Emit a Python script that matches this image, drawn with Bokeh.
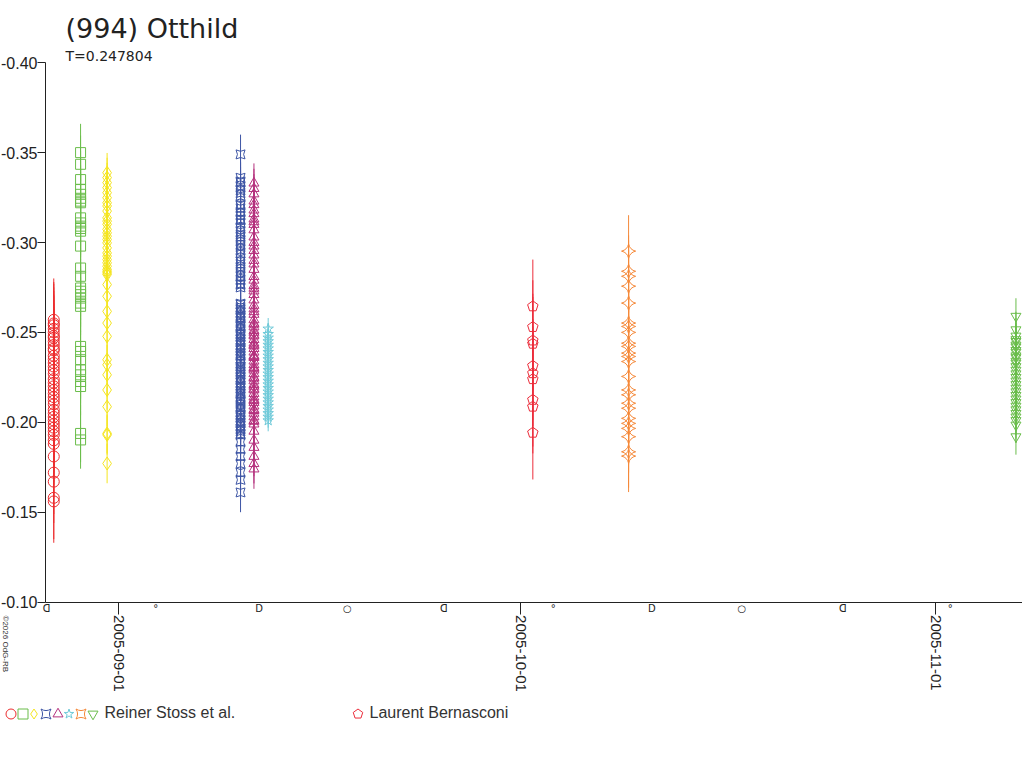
import math
import numpy as np
import pandas as pd
from bokeh.plotting import figure
from bokeh.models import (ColumnDataSource, Range1d, FixedTicker, NumeralTickFormatter,
                          DatetimeTickFormatter, LinearAxis, Label, Legend, LegendItem)
from bokeh.embed import file_html
from bokeh.resources import INLINE

TITLE = "(994) Otthild"
SUBTITLE = "T=0.247804"
COPYRIGHT = "\u00a92026 OdG-RB"

# axis extents (data) and the full canvas extents (data)
X_START = "2005-08-26 13:10"
X_END = "2005-11-07 11:00"
X_VIEW = ("2005-08-23 04:35", "2005-11-07 11:00")
Y_AXIS = (-0.40, -0.10)
Y_VIEW = (-0.0119, -0.4346)
Y_TICKS = [-0.40, -0.35, -0.30, -0.25, -0.20, -0.15, -0.10]
X_TICKS = ["2005-09-01", "2005-10-01", "2005-11-01"]

# moon phases (last quarter, new, first quarter, full)
MOON_DATES = ["2005-08-26 15:18", "2005-09-03 18:45", "2005-09-11 11:37", "2005-09-18 02:01",
              "2005-09-25 06:41", "2005-10-03 10:28", "2005-10-10 19:01", "2005-10-17 12:14",
              "2005-10-25 01:17", "2005-11-02 01:25"]
MOON_SYMBOLS = ["\u15e1", "\u00b0", "D", "\u25cb", "\u15e1", "\u00b0", "D", "\u25cb", "\u15e1", "\u00b0"]

# ---- Reiner Stoss et al. : eight nights ----
N1_DATE = "2005-08-27 04:00"
N1_MAG = [-0.257, -0.255, -0.254, -0.252, -0.250, -0.248, -0.247, -0.245, -0.243, -0.241,
          -0.240, -0.237, -0.235, -0.233, -0.231, -0.229, -0.227, -0.224, -0.222, -0.220,
          -0.218, -0.216, -0.214, -0.212, -0.210, -0.207, -0.205, -0.203, -0.201, -0.199,
          -0.197, -0.195, -0.193, -0.190, -0.188, -0.181, -0.172, -0.167, -0.158, -0.156]
N1_ERR = 0.023

N2_DATE = "2005-08-29 04:00"
N2_MAG = [-0.350, -0.3435, -0.335, -0.3296, -0.3268, -0.3246, -0.3230, -0.3221, -0.3137, -0.3109,
          -0.3091, -0.3078, -0.3063, -0.2980, -0.2858, -0.2812, -0.2747, -0.2729, -0.2710, -0.2691,
          -0.2663, -0.2645, -0.2422, -0.2394, -0.2348, -0.2292, -0.2264, -0.2227, -0.2199, -0.1938,
          -0.1902]
N2_ERR = 0.016

N3_DATE = "2005-08-31 03:30"
N3_MAG = [-0.3388, -0.3361, -0.3333, -0.3305, -0.3277, -0.3249, -0.3221, -0.3203, -0.3175, -0.3137,
          -0.3119, -0.3101, -0.3073, -0.3054, -0.3035, -0.3017, -0.2998, -0.2970, -0.2942, -0.2924,
          -0.2905, -0.2887, -0.2868, -0.2850, -0.2840, -0.2831, -0.2822, -0.2766, -0.2701, -0.2617,
          -0.2552, -0.2478, -0.2348, -0.2320, -0.2264, -0.2180, -0.2087, -0.1938, -0.1930, -0.1771]
N3_ERR = 0.011

N4_DATE = "2005-09-10 02:30"
N4_MAG = [-0.349, -0.336, -0.334, -0.331, -0.329, -0.326, -0.321, -0.319, -0.317, -0.315,
          -0.313, -0.311, -0.308, -0.306, -0.303, -0.301, -0.299, -0.296, -0.294, -0.291,
          -0.288, -0.286, -0.284, -0.281, -0.279, -0.277, -0.275, -0.266, -0.264, -0.263,
          -0.261, -0.259, -0.258, -0.256, -0.254, -0.253, -0.251, -0.249, -0.248, -0.246,
          -0.245, -0.243, -0.241, -0.240, -0.238, -0.237, -0.235, -0.233, -0.231, -0.230,
          -0.228, -0.227, -0.225, -0.224, -0.222, -0.220, -0.219, -0.217, -0.216, -0.214,
          -0.212, -0.211, -0.209, -0.208, -0.206, -0.204, -0.203, -0.201, -0.200, -0.198,
          -0.196, -0.195, -0.193, -0.189, -0.185, -0.181, -0.177, -0.172, -0.168, -0.161,
          -0.3335, -0.3275, -0.3205, -0.3125, -0.3045, -0.2975, -0.2895, -0.2825, -0.2765,
          -0.2655, -0.2625, -0.2595, -0.2565, -0.2535, -0.2505, -0.2475, -0.2445, -0.2415,
          -0.2385, -0.2355, -0.2325, -0.2295, -0.2265, -0.2235, -0.2205, -0.2175, -0.2145,
          -0.2115, -0.2085, -0.2055, -0.2025, -0.1995, -0.1965, -0.1935]
N4_ERR = 0.011

N5_DATE = "2005-09-11 02:30"
N5_MAG = [-0.333, -0.330, -0.327, -0.323, -0.321, -0.318, -0.316, -0.313, -0.310, -0.307,
          -0.303, -0.300, -0.298, -0.293, -0.290, -0.288, -0.285, -0.281, -0.279, -0.276,
          -0.273, -0.271, -0.268, -0.265, -0.263, -0.260, -0.257, -0.255, -0.253, -0.251,
          -0.250, -0.248, -0.246, -0.244, -0.243, -0.241, -0.239, -0.237, -0.236, -0.234,
          -0.232, -0.230, -0.229, -0.227, -0.225, -0.223, -0.221, -0.220, -0.218, -0.216,
          -0.214, -0.212, -0.211, -0.209, -0.207, -0.205, -0.203, -0.201, -0.199, -0.195,
          -0.190, -0.186, -0.181, -0.177, -0.174,
          -0.3115, -0.2955, -0.2745, -0.2615, -0.2545, -0.2485, -0.2425, -0.2365, -0.2305,
          -0.2245, -0.2185, -0.2125, -0.2065, -0.2005]
N5_ERR = 0.011

N6_DATE = "2005-09-12 04:00"
N6_MAG = [-0.252, -0.249, -0.247, -0.245, -0.243, -0.241, -0.239, -0.237, -0.235, -0.233,
          -0.231, -0.229, -0.227, -0.225, -0.223, -0.221, -0.219, -0.217, -0.215, -0.213,
          -0.211, -0.209, -0.207, -0.205, -0.203, -0.201]
N6_ERR = 0.006

N7_DATE = "2005-10-09 01:30"
N7_MAG = [-0.2952, -0.2840, -0.2812, -0.2757, -0.2663, -0.2552, -0.2533, -0.2500, -0.2440, -0.2422,
          -0.2385, -0.2366, -0.2338, -0.2255, -0.2180, -0.2153, -0.2106, -0.2078, -0.2022, -0.1994,
          -0.1966, -0.1920, -0.1836, -0.1812]
N7_ERR = 0.020

N8_DATE = "2005-11-06 23:15"
N8_MAG = [-0.259, -0.2515, -0.248, -0.246, -0.245, -0.243, -0.242, -0.240, -0.239, -0.237,
          -0.236, -0.234, -0.233, -0.231, -0.229, -0.227, -0.225, -0.223, -0.221, -0.219,
          -0.217, -0.215, -0.213, -0.211, -0.209, -0.207, -0.205, -0.203, -0.201, -0.1985, -0.192]
N8_ERR = 0.010

# ---- Laurent Bernasconi ----
LB_DATE = "2005-10-01 22:00"
LB_MAG = [-0.2645, -0.2530, -0.2455, -0.2437, -0.2314, -0.2273, -0.2240, -0.2125, -0.2087, -0.1942]
LB_ERR = 0.026
LB_COLOR = "#ec2d3b"

STOSS_LABEL = "Reiner Stoss et al."
LB_LABEL = "Laurent Bernasconi"

STOSS_NIGHTS = [
    (N1_DATE, N1_MAG, N1_ERR, "circle", "#ec2d2f", 11, 0.0),
    (N2_DATE, N2_MAG, N2_ERR, "square", "#6abd4b", 10, 0.0),
    (N3_DATE, N3_MAG, N3_ERR, "diamond", "#f5e51f", 13, 0.0),
    (N4_DATE, N4_MAG, N4_ERR, "square_pin", "#3d55a5", 9, 0.0),
    (N5_DATE, N5_MAG, N5_ERR, "triangle", "#b5327e", 10, 0.0),
    (N6_DATE, N6_MAG, N6_ERR, "star", "#70cad9", 11, 0.0),
    (N7_DATE, N7_MAG, N7_ERR, "square_pin", "#f5893a", 10, math.pi / 4),
    (N8_DATE, N8_MAG, N8_ERR, "inverted_triangle", "#6abd4b", 10, 0.0),
]

# legend key positions (layout, screen px from the left / bottom)
STOSS_KEY_X = [10, 22, 33, 45, 57, 68, 80, 92]
LB_KEY_X = 357
KEY_Y = 34.5

FONT = "Liberation Sans"
TXT = "#222222"
W, H = 1022, 760


def ms(s):
    return pd.Timestamp(s).value / 1e6


p = figure(width=W, height=H, output_backend="svg", toolbar_location=None,
           x_axis_type="datetime",
           x_range=Range1d(ms(X_VIEW[0]), ms(X_VIEW[1])),
           y_range=Range1d(Y_VIEW[0], Y_VIEW[1]),
           min_border=0, min_border_left=0, min_border_right=0,
           min_border_top=0, min_border_bottom=0)
p.title.visible = False
p.grid.visible = False
p.outline_line_color = None
p.background_fill_color = "white"

# y axis, drawn at the left edge of the data area
ya = p.yaxis[0]
ya.fixed_location = ms(X_START)
ya.bounds = Y_AXIS
ya.ticker = FixedTicker(ticks=Y_TICKS)
ya.formatter = NumeralTickFormatter(format="0.00")
ya.major_tick_out = 8
ya.major_tick_in = 0
ya.minor_tick_line_color = None
ya.major_label_standoff = 0
ya.major_label_text_font = FONT
ya.major_label_text_font_size = "16px"
ya.major_label_text_color = TXT
ya.major_label_text_baseline = "bottom"
ya.axis_line_color = TXT
ya.major_tick_line_color = TXT

# date axis at the bottom of the data area
fmt = "%Y-%m-%d"
xa = p.xaxis[0]
xa.fixed_location = Y_AXIS[1]
xa.bounds = (ms(X_START), ms(X_END))
xa.ticker = FixedTicker(ticks=[ms(t) for t in X_TICKS])
xa.formatter = DatetimeTickFormatter(microseconds=fmt, milliseconds=fmt, seconds=fmt, minsec=fmt,
                                     minutes=fmt, hourmin=fmt, hours=fmt, days=fmt, months=fmt, years=fmt)
xa.major_label_orientation = -math.pi / 2
xa.major_tick_out = 12
xa.major_tick_in = 0
xa.minor_tick_line_color = None
xa.major_label_standoff = 1
xa.major_label_text_font = FONT
xa.major_label_text_font_size = "15px"
xa.major_label_text_color = TXT
xa.major_label_text_baseline = "bottom"
xa.axis_line_color = TXT
xa.major_tick_line_color = TXT

# moon phase marks along the same line
moon_ticks = [ms(d) for d in MOON_DATES]
moon_axis = LinearAxis(fixed_location=Y_AXIS[1], bounds=(ms(X_START), ms(X_END)),
                       ticker=FixedTicker(ticks=moon_ticks),
                       major_label_overrides={t: s for t, s in zip(moon_ticks, MOON_SYMBOLS)},
                       major_tick_line_color=None, minor_tick_line_color=None,
                       major_tick_in=0, major_tick_out=0, major_label_standoff=1,
                       major_label_text_font="DejaVu Sans", major_label_text_font_size="10px",
                       major_label_text_color=TXT, axis_line_color=None)
p.add_layout(moon_axis, "below")

for k, (d, mag, err, marker, color, size, ang) in enumerate(STOSS_NIGHTS):
    m = np.array(mag)
    src = ColumnDataSource(dict(t=[ms(d)] * len(m), mag=m, lo=m - err, hi=m + err))
    p.segment(x0="t", y0="lo", x1="t", y1="hi", source=src, line_color=color, line_width=1)
    p.scatter(x="t", y="mag", source=src, marker=marker, size=size, angle=ang,
              fill_color=None, line_color=color, line_width=1)

lbm = np.array(LB_MAG)
lbsrc = ColumnDataSource(dict(t=[ms(LB_DATE)] * len(lbm), mag=lbm, lo=lbm - LB_ERR, hi=lbm + LB_ERR))
p.segment(x0="t", y0="lo", x1="t", y1="hi", source=lbsrc, line_color=LB_COLOR, line_width=1)
p.ngon(x="t", y="mag", radius=5.5, radius_units="screen", n=5, source=lbsrc,
       fill_color=None, line_color=LB_COLOR, line_width=1)

# titles and copyright (screen units from the bottom-left of the canvas)
p.add_layout(Label(x=65, y=H - 27.5, x_units="screen", y_units="screen", text=TITLE,
                   text_font="DejaVu Sans", text_font_size="27px", text_color=TXT,
                   text_baseline="middle"))
p.add_layout(Label(x=65, y=H - 55, x_units="screen", y_units="screen", text=SUBTITLE,
                   text_font="DejaVu Sans", text_font_size="14px", text_color=TXT,
                   text_baseline="middle"))
p.add_layout(Label(x=5, y=H - 615, x_units="screen", y_units="screen", text=COPYRIGHT,
                   angle=-math.pi / 2, text_font=FONT, text_font_size="8px", text_color="#333333",
                   text_align="left", text_baseline="middle"))


# legend keys: one single-item legend per key; swatch renderers hold no drawable data
def key_legend(label, renderer, cx):
    lg = Legend(items=[LegendItem(label=label, renderers=[renderer])],
                location=(cx - 12.5, KEY_Y), orientation="horizontal",
                glyph_width=25, glyph_height=25, label_width=0, label_height=20,
                label_standoff=0, spacing=0, padding=0, margin=0,
                border_line_alpha=0, background_fill_alpha=0,
                label_text_font=FONT, label_text_font_size="16px", label_text_color="#333333")
    p.add_layout(lg, "center")


for k, (d, mag, err, marker, color, size, ang) in enumerate(STOSS_NIGHTS):
    sw = p.scatter(x=[np.nan], y=[np.nan], marker=marker, angle=ang,
                   fill_color=None, line_color=color, line_width=1)
    key_legend(STOSS_LABEL if k == len(STOSS_NIGHTS) - 1 else "", sw, STOSS_KEY_X[k])
lb_sw = p.ngon(x=[np.nan], y=[np.nan], radius=5.5, radius_units="screen", n=5,
               fill_color=None, line_color=LB_COLOR, line_width=1)
key_legend(LB_LABEL, lb_sw, LB_KEY_X)

open("out.html", "w").write(file_html(p, INLINE))
